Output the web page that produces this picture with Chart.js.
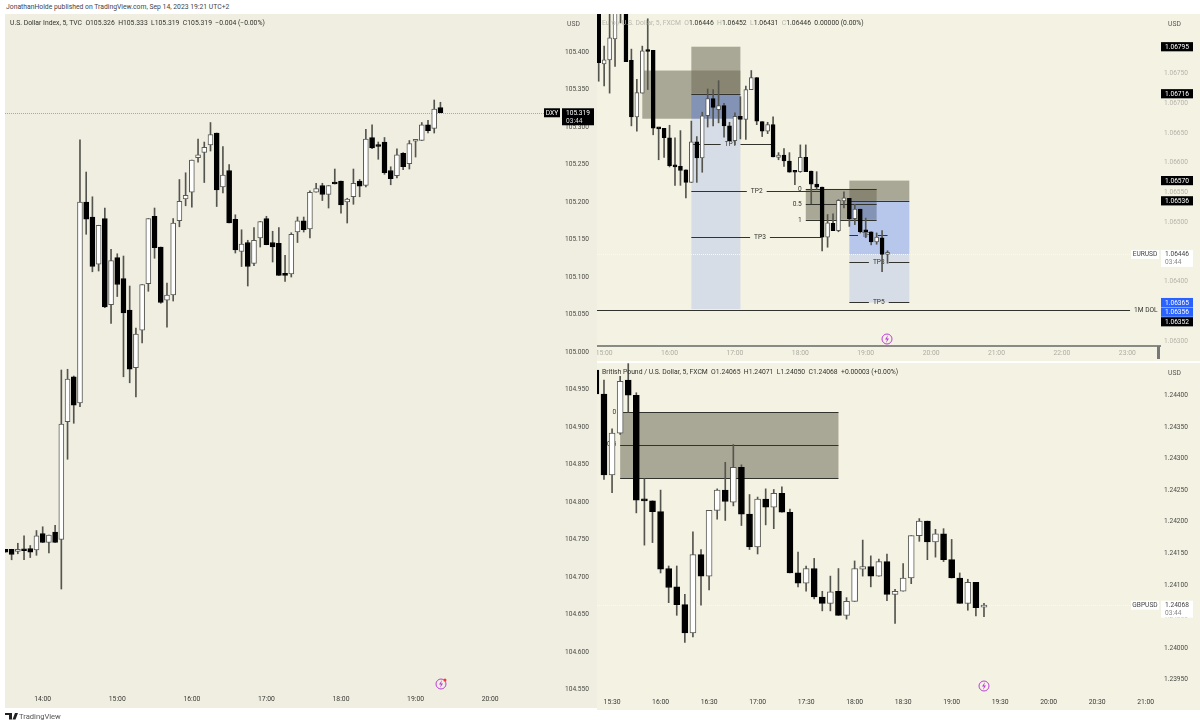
<!DOCTYPE html>
<html><head><meta charset="utf-8">
<script src="https://cdn.jsdelivr.net/npm/chart.js@4/dist/chart.umd.min.js"></script>
<style>
html,body{margin:0;padding:0;background:#fff;width:1200px;height:728px;overflow:hidden;font-family:Roboto,sans-serif}
.pane{position:absolute}
.pane canvas{position:absolute;left:0;top:0;display:block;filter:blur(.3px)}
.t{position:absolute;white-space:pre;font-size:6.8px;line-height:9px;color:#33332d}
.f{color:#b9b8ab}
svg{position:absolute;overflow:visible}
</style></head><body>
<div class="t" style="left:6px;top:3px;color:#444">JonathanHolde published on TradingView.com, Sep 14, 2023 19:21 UTC+2</div>
<div class="pane" style="left:5px;top:14px;width:592px;height:694px;background:#f0eee1"><canvas id="dxy" width="592" height="694"></canvas></div>
<div class="pane" style="left:597px;top:14px;width:603px;height:347px;background:#f4f2e3"><canvas id="eur" width="603" height="347"></canvas></div>
<div class="pane" style="left:597px;top:363px;width:603px;height:347px;background:#f4f2e3"><canvas id="gbp" width="603" height="347"></canvas></div>
<div class="t" style="left:10px;top:19px">U.S. Dollar Index, 5, TVC  O105.326  H105.333  L105.319  C105.319  −0.004 (−0.00%)</div>
<div class="t" style="left:602px;top:19px"><span class="f">Euro / U.S. Dollar, 5, FXCM  O</span>1.06446  <span class="f">H</span>1.06452  <span class="f">L</span>1.06431  <span class="f">C</span>1.06446  0.00000 (0.00%)</div>
<div class="t" style="left:602px;top:368px">British Pound / U.S. Dollar, 5, FXCM  O1.24065  H1.24071  L1.24050  C1.24068  +0.00003 (+0.00%)</div>
<div class="t" style="left:567px;top:20px;color:#555">USD</div>
<div class="t" style="left:1168px;top:20px;color:#555">USD</div>
<div class="t" style="left:1168px;top:369px;color:#555">USD</div>
<div style="position:absolute;left:1157px;top:346px;width:3px;height:13px;background:#777"></div>
<svg style="left:0;top:0" width="1200" height="728">
 <g fill="none" stroke="#b93fd6" stroke-width="1"><circle cx="441" cy="684" r="5"/><circle cx="887" cy="339" r="5"/><circle cx="984" cy="686" r="5"/></g>
 <g fill="#b93fd6"><path d="M442 680l-3 4.500h2l-1 3.500 3-4.500h-2z"/><path d="M888 335l-3 4.500h2l-1 3.500 3-4.500h-2z"/><path d="M985 682l-3 4.500h2l-1 3.500 3-4.500h-2z"/></g>
 <circle cx="445" cy="680" r="1.500" fill="#f23645"/>
 <path d="M5 713h7v6.500h-3v-4.500h-4zM12.500 719.500l2.500-6.500h3l-2.500 6.500z" fill="#222"/>
</svg>
<div class="t" style="left:19px;top:712px;font-size:7.6px;color:#555">TradingView</div>
<script>
// ---------- U.S. Dollar Index ----------
const dxyOpen=[104.737,104.737,104.734,104.737,104.738,104.736,104.758,104.746,104.760,104.750,
104.907,104.967,104.932,105.200,105.180,105.117,105.178,105.063,105.126,105.098,
105.056,104.979,105.029,105.091,105.181,105.140,105.069,105.076,105.175,105.204,
105.213,105.259,105.266,105.276,105.292,105.220,105.242,105.177,105.134,105.146,
105.118,105.152,105.178,105.146,105.145,105.105,105.104,105.160,105.175,105.164,
105.213,105.222,105.210,105.226,105.228,105.200,105.207,105.228,105.222,105.286,
105.276,105.280,105.242,105.235,105.265,105.251,105.281,105.282,105.303,105.298,105.326];
const dxyHigh=[104.737,104.737,104.745,104.755,104.742,104.762,104.767,104.756,104.769,104.976,
104.977,104.968,105.283,105.240,105.207,105.169,105.192,105.137,105.131,105.128,
105.088,105.032,105.090,105.178,105.192,105.140,105.092,105.178,105.230,105.239,
105.256,105.284,105.280,105.306,105.292,105.274,105.250,105.183,105.163,105.149,
105.166,105.174,105.181,105.161,105.166,105.129,105.159,105.180,105.180,105.215,
105.225,105.225,105.222,105.244,105.228,105.205,105.244,105.230,105.297,105.303,
105.280,105.286,105.247,105.271,105.266,105.282,105.283,105.306,105.309,105.336,105.333];
const dxyLow=[104.733,104.723,104.731,104.723,104.726,104.729,104.746,104.732,104.746,104.684,
104.857,104.905,104.927,105.157,105.107,105.108,105.059,105.038,105.074,104.967,
104.959,104.940,105.012,105.081,105.125,105.065,105.033,105.068,105.167,105.195,
105.193,105.253,105.226,105.268,105.194,105.212,105.172,105.132,105.114,105.088,
105.115,105.140,105.143,105.120,105.102,105.094,105.100,105.146,105.160,105.152,
105.213,105.202,105.192,105.224,105.185,105.172,105.197,105.207,105.220,105.271,
105.257,105.237,105.223,105.232,105.243,105.244,105.260,105.282,105.292,105.292,105.319];
const dxyClose=[104.733,104.730,104.737,104.735,104.733,104.755,104.746,104.756,104.746,104.904,
104.964,104.929,105.200,105.177,105.114,105.169,105.060,105.122,105.090,105.052,
104.977,105.024,105.090,105.178,105.139,105.066,105.076,105.172,105.201,105.209,
105.256,105.263,105.273,105.290,105.216,105.236,105.172,105.136,105.144,105.114,
105.149,105.174,105.143,105.140,105.102,105.102,105.157,105.175,105.163,105.213,
105.218,105.210,105.222,105.224,105.196,105.204,105.225,105.221,105.284,105.272,
105.274,105.239,105.231,105.263,105.247,105.278,105.283,105.303,105.295,105.324,105.319];
const dxyPriceTicks=[105.40,105.35,105.30,105.25,105.20,105.15,105.10,105.05,105.00,104.95,104.90,104.85,104.80,104.75,104.70,104.65,104.60,104.55];
const dxyTimeLabels=['14:00','15:00','16:00','17:00','18:00','19:00','20:00'];
const dxyTimeBars=[6,18,30,42,54,66,78];

// ---------- EUR/USD ----------
const eurOpen=[1.06857,1.06766,1.06773,1.06808,1.06871,1.06866,1.06772,1.06677,1.06717,1.06789,
1.06789,1.06658,1.06658,1.06642,1.06595,1.06594,1.06588,1.06567,1.06635,1.06608,
1.06679,1.06708,1.06689,1.06696,1.06662,1.06637,1.06678,1.06673,1.06723,1.06743,
1.06669,1.06653,1.06664,1.06609,1.06613,1.06603,1.06585,1.06585,1.06609,1.06586,
1.06564,1.06559,1.06475,1.06498,1.06486,1.06536,1.06540,1.06506,1.06522,1.06485,
1.06484,1.06467,1.06474,1.06446];
const eurHigh=[1.06857,1.06796,1.06866,1.06874,1.06874,1.06874,1.06791,1.06740,1.06796,1.06842,
1.06789,1.06658,1.06658,1.06663,1.06642,1.06654,1.06588,1.06670,1.06644,1.06685,
1.06724,1.06723,1.06738,1.06700,1.06668,1.06684,1.06711,1.06729,1.06755,1.06743,
1.06669,1.06668,1.06677,1.06617,1.06624,1.06617,1.06585,1.06630,1.06630,1.06586,
1.06585,1.06559,1.06513,1.06514,1.06538,1.06551,1.06540,1.06530,1.06522,1.06507,
1.06484,1.06482,1.06486,1.06452];
const eurLow=[1.06737,1.06729,1.06717,1.06762,1.06835,1.06770,1.06662,1.06653,1.06717,1.06723,
1.06647,1.06605,1.06609,1.06593,1.06562,1.06562,1.06541,1.06567,1.06567,1.06584,
1.06660,1.06662,1.06667,1.06643,1.06637,1.06630,1.06640,1.06639,1.06723,1.06664,
1.06644,1.06649,1.06610,1.06605,1.06594,1.06584,1.06563,1.06584,1.06585,1.06531,
1.06555,1.06452,1.06458,1.06486,1.06484,1.06524,1.06493,1.06496,1.06482,1.06474,
1.06462,1.06463,1.06417,1.06431];
const eurClose=[1.06768,1.06773,1.06810,1.06866,1.06861,1.06770,1.06677,1.06718,1.06788,1.06787,
1.06658,1.06657,1.06642,1.06595,1.06593,1.06587,1.06567,1.06635,1.06608,1.06679,
1.06708,1.06693,1.06696,1.06662,1.06637,1.06678,1.06673,1.06723,1.06743,1.06670,
1.06653,1.06664,1.06610,1.06613,1.06603,1.06584,1.06584,1.06609,1.06585,1.06564,
1.06559,1.06475,1.06499,1.06486,1.06537,1.06541,1.06506,1.06522,1.06484,1.06484,
1.06467,1.06475,1.06446,1.06446];
const eurPriceTicks=[1.0675,1.0670,1.0665,1.0660,1.0655,1.0650,1.0640,1.0630];
const eurTimeLabels=['15:00','16:00','17:00','18:00','19:00','20:00','21:00','22:00','23:00'];
const eurTimeBars=[1,13,25,37,49,61,73,85,97];
const eurOliveZones=[[17,26,1.06795,1.06716],[8,26,1.06755,1.06674],[38,51,1.06556,1.06504],[46,57,1.06570,1.06536]];
const eurBlueZones=[[17,26,1.06716,1.06674],[46,57,1.06536,1.06446]];
const eurPaleZones=[[17,26,1.06674,1.06354],[46,57,1.06446,1.06365]];
const eurLines=[[17,26,1.06716],[46,57,1.06536],[38,51,1.06556],[38,51,1.06530],[38,51,1.06504]];
const eurLabelledLines=[[17,31.8,1.06632,'TP1',24.2],[17,41,1.06552,'TP2',29],[17,41,1.06475,'TP3',29.6],
 [46,53,1.06478,'TP1',49.4],[46,57,1.06433,'TP3',51.4],[46,57,1.06366,'TP5',51.4],[-1,103.2,1.06352,'1M DOL',100.4]];
const eurSideLabels=[[38,1.06556,'0'],[38,1.06530,'0.5'],[38,1.06504,'1']];
const eurTags=[[1.06795,'1.06795'],[1.06716,'1.06716'],[1.06570,'1.06570'],[1.06536,'1.06536'],[1.06365,'1.06365'],[1.06356,'1.06356'],[1.06352,'1.06352']];
const eurBlueTags=['1.06365','1.06356'];

// ---------- GBP/USD ----------
const gbpOpen=[1.24440,1.24402,1.24274,1.24340,1.24424,1.24400,1.24234,1.24233,1.24216,1.24126,
1.24097,1.24069,1.24024,1.24148,1.24114,1.24218,1.24250,1.24231,1.24286,1.24212,
1.24160,1.24236,1.24223,1.24245,1.24215,1.24119,1.24103,1.24126,1.24081,1.24071,
1.24090,1.24052,1.24074,1.24125,1.24129,1.24114,1.24137,1.24085,1.24090,1.24111,
1.24178,1.24201,1.24168,1.24181,1.24140,1.24111,1.24071,1.24104,1.24065];
const gbpHigh=[1.24448,1.24424,1.24347,1.24430,1.24450,1.24404,1.24268,1.24233,1.24250,1.24130,
1.24130,1.24085,1.24184,1.24156,1.24218,1.24252,1.24294,1.24322,1.24290,1.24243,
1.24239,1.24252,1.24251,1.24255,1.24220,1.24152,1.24130,1.24142,1.24090,1.24114,
1.24126,1.24080,1.24138,1.24171,1.24146,1.24141,1.24149,1.24093,1.24134,1.24178,
1.24205,1.24201,1.24188,1.24189,1.24172,1.24119,1.24109,1.24104,1.24071];
const gbpLow=[1.24392,1.24267,1.24246,1.24338,1.24373,1.24214,1.24163,1.24167,1.24119,1.24072,
1.24052,1.24009,1.24018,1.24068,1.24092,1.24204,1.24202,1.24225,1.24194,1.24156,
1.24149,1.24195,1.24189,1.24215,1.24119,1.24097,1.24090,1.24078,1.24059,1.24059,
1.24052,1.24046,1.24074,1.24114,1.24097,1.24114,1.24075,1.24039,1.24090,1.24102,
1.24169,1.24140,1.24144,1.24137,1.24111,1.24071,1.24060,1.24051,1.24050];
const gbpClose=[1.24402,1.24274,1.24340,1.24422,1.24400,1.24234,1.24233,1.24216,1.24125,1.24096,
1.24069,1.24024,1.24148,1.24114,1.24218,1.24250,1.24232,1.24286,1.24212,1.24160,
1.24236,1.24223,1.24245,1.24215,1.24119,1.24103,1.24126,1.24081,1.24071,1.24089,
1.24052,1.24074,1.24126,1.24129,1.24114,1.24137,1.24085,1.24090,1.24111,1.24178,
1.24201,1.24168,1.24181,1.24140,1.24111,1.24071,1.24104,1.24064,1.24068];
const gbpPriceTicks=[1.2440,1.2435,1.2430,1.2425,1.2420,1.2415,1.2410,1.2405,1.2400,1.2395];
const gbpTimeLabels=['15:30','16:00','16:30','17:00','17:30','18:00','18:30','19:00','19:30','20:00','20:30','21:00'];
const gbpTimeBars=[2,8,14,20,26,32,38,44,50,56,62,68];
const gbpOliveZones=[[3,30,1.24373,1.24269]];
const gbpLines=[[3,30,1.24373],[3,30,1.24322],[3,30,1.24269]];
const gbpSideLabels=[[3,1.24373,'0'],[3,1.24322,'0.5']];

const FONT='Roboto, sans-serif';
const OLIVE='rgba(110,108,88,.56)', BLUE='rgba(41,98,255,.30)', PALE='rgba(41,98,255,.14)', LINE='#33332d';

function overlay(c){
 return {id:'ov',
  beforeDatasetsDraw(ch){
   const g=ch.ctx,x=ch.scales.x,y=ch.scales.y,a=ch.chartArea;
   g.save();g.beginPath();g.rect(a.left,a.top,a.width,a.height);g.clip();
   const fill=(zs,col)=>{g.fillStyle=col;(zs||[]).forEach(z=>{
     const l=x.getPixelForValue(z[0]),r=x.getPixelForValue(z[1]),t=y.getPixelForValue(z[2]),b=y.getPixelForValue(z[3]);
     g.fillRect(l,t,r-l,b-t);});};
   fill(c.olive,OLIVE);fill(c.pale,PALE);fill(c.blue,BLUE);
   g.strokeStyle=LINE;g.lineWidth=1;
   const seg=(x1,x2,py)=>{g.beginPath();g.moveTo(x1,py);g.lineTo(x2,py);g.stroke();};
   (c.lines||[]).forEach(l=>{seg(x.getPixelForValue(l[0]),x.getPixelForValue(l[1]),Math.round(y.getPixelForValue(l[2]))+.5);});
   g.font='6.6px '+FONT;g.textBaseline='middle';g.textAlign='center';g.fillStyle='#33332d';
   (c.labelled||[]).forEach(l=>{
     const py=Math.round(y.getPixelForValue(l[2]))+.5,cx=x.getPixelForValue(l[4]),w=g.measureText(l[3]).width/2+4;
     seg(x.getPixelForValue(l[0]),cx-w,py);seg(cx+w,x.getPixelForValue(l[1]),py);g.fillText(l[3],cx,py);});
   g.textAlign='right';
   (c.side||[]).forEach(l=>g.fillText(l[2],x.getPixelForValue(l[0])-4,y.getPixelForValue(l[1])));
   if(c.last){g.strokeStyle=c.lastColor;g.setLineDash([1,1]);seg(a.left,a.right,Math.round(y.getPixelForValue(c.last))+.5);g.setLineDash([]);}
   g.restore();
  },
  afterDraw(ch){
   const g=ch.ctx,y=ch.scales.y,a=ch.chartArea;
   g.save();g.font='6.6px '+FONT;g.textBaseline='middle';
   let prev=-99;
   (c.tags||[]).forEach(t=>{
     let py=y.getPixelForValue(t[0]);py=Math.max(py,prev+9.6);prev=py;
     g.fillStyle=(c.blueTags||[]).includes(t[1])?'#2962ff':'#000';
     g.fillRect(a.right+1,py-4.6,c.tagW,9.2);
     g.fillStyle='#fff';g.textAlign='left';g.fillText(t[1],a.right+5,py+.3);});
   if(c.last){
     const py=y.getPixelForValue(c.last);
     g.fillStyle=c.lastBg;g.fillRect(a.right+1,py-4.5,c.tagW,17);
     g.fillRect(a.right-c.symW-1,py-4.5,c.symW,9);
     g.fillStyle=c.lastFg;g.textAlign='left';
     g.fillText(c.lastText,a.right+5,py+.3);g.fillStyle=c.lastSub;g.fillText('03:44',a.right+5,py+8.3);
     g.fillStyle=c.lastFg;g.textAlign='center';g.fillText(c.symbol,a.right-c.symW/2-1,py+.3);
   }
   g.restore();
  }};
}

function candles(id,d){
 const n=d.open.length,up=i=>d.close[i]>=d.open[i];
 const idx=Array.from({length:n},(_,i)=>i);
 new Chart(document.getElementById(id),{
  type:'bar',
  data:{datasets:[
   {data:idx.map(i=>({x:i,y:[d.open[i],d.close[i]]})),order:1,grouped:false,barThickness:d.bodyW,minBarLength:2,
    backgroundColor:idx.map(i=>up(i)?'#ffffff':'#000000'),borderColor:idx.map(i=>up(i)?'#5a5a55':'#000000'),borderWidth:1,borderSkipped:false},
   {data:idx.map(i=>({x:i,y:[d.low[i],d.high[i]]})),order:2,grouped:false,barThickness:1,backgroundColor:'#55554f',borderWidth:0}
  ]},
  options:{responsive:false,animation:false,events:[],devicePixelRatio:1,
   layout:{padding:0,autoPadding:false},
   plugins:{legend:{display:false},tooltip:{enabled:false},title:{display:false}},
   scales:{
    x:{type:'linear',offset:false,min:d.xMin,max:d.xMax,grid:{display:false,drawTicks:false},
       border:d.xBorder?{display:true,color:'#8a8a84',width:2}:{display:false},
       afterBuildTicks:s=>{s.ticks=d.timeBars.map(v=>({value:v}));},
       afterFit:s=>{s.height=d.timeH;s.paddingLeft=s.paddingRight=0;},
       ticks:{autoSkip:false,maxRotation:0,minRotation:0,padding:3,color:d.xColor,font:{family:FONT,size:6.8},
              callback:v=>d.timeLabels[d.timeBars.indexOf(v)]}},
    y:{type:'linear',position:'right',offset:false,beginAtZero:false,min:d.yMin,max:d.yMax,grid:{display:false,drawTicks:false},border:{display:false},
       afterBuildTicks:s=>{s.ticks=d.priceTicks.map(v=>({value:v}));},
       afterFit:s=>{s.width=d.axisW;s.paddingTop=s.paddingBottom=0;},
       ticks:{autoSkip:false,padding:4,color:d.yColor,font:{family:FONT,size:6.6},callback:v=>v.toFixed(d.digits)}}
   }},
  plugins:[overlay(d.over)]
 });
}

candles('dxy',{open:dxyOpen,high:dxyHigh,low:dxyLow,close:dxyClose,priceTicks:dxyPriceTicks,timeBars:dxyTimeBars,timeLabels:dxyTimeLabels,
 digits:3,xMin:-0.064,xMax:89.4,yMin:104.5467,yMax:105.4507,bodyW:5,axisW:36,timeH:16,xColor:'#3a3a36',yColor:'#4a4a45',
 over:{last:105.319,lastColor:'#a8a89c',lastBg:'#000',lastFg:'#fff',lastSub:'#ddd',lastText:'105.319',symbol:'DXY',symW:16,tagW:32}});

candles('eur',{open:eurOpen,high:eurHigh,low:eurLow,close:eurClose,priceTicks:eurPriceTicks,timeBars:eurTimeBars,timeLabels:eurTimeLabels,
 digits:5,xMin:-0.312,xMax:103,yMin:1.06292,yMax:1.06850,bodyW:4,axisW:40,timeH:15,xBorder:true,xColor:'#aeada2',yColor:'#b5b4a9',
 over:{olive:eurOliveZones,blue:eurBlueZones,pale:eurPaleZones,lines:eurLines,labelled:eurLabelledLines,side:eurSideLabels,tags:eurTags,blueTags:eurBlueTags,
  last:1.06446,lastColor:'#fbfaf2',lastBg:'#fff',lastFg:'#444',lastSub:'#888',lastText:'1.06446',symbol:'EURUSD',symW:28,tagW:32}});

candles('gbp',{open:gbpOpen,high:gbpHigh,low:gbpLow,close:gbpClose,priceTicks:gbpPriceTicks,timeBars:gbpTimeBars,timeLabels:gbpTimeLabels,
 digits:5,xMin:0.136,xMax:69.77,yMin:1.23926,yMax:1.24451,bodyW:6,axisW:40,timeH:15,xColor:'#3a3a36',yColor:'#4a4a45',
 over:{olive:gbpOliveZones,lines:gbpLines,side:gbpSideLabels,
  last:1.24068,lastColor:'#fbfaf2',lastBg:'#fff',lastFg:'#444',lastSub:'#888',lastText:'1.24068',symbol:'GBPUSD',symW:28,tagW:32}});
</script>
</body></html>
